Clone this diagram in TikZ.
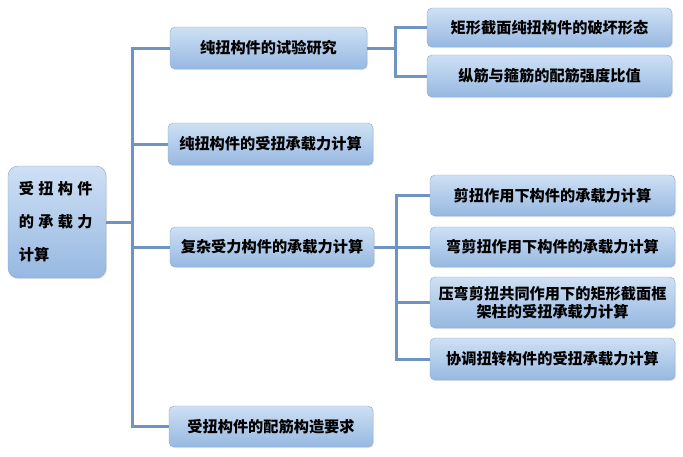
\documentclass[tikz,border=0pt]{standalone}
\usepackage{fontspec}
\newfontfamily\cjk{Noto Sans CJK SC}
\usetikzlibrary{shadows}
\definecolor{linkblue}{RGB}{112,148,194}
\definecolor{boxtop}{RGB}{206,224,244}
\definecolor{boxbot}{RGB}{150,184,225}
\definecolor{boxline}{RGB}{136,168,208}
\tikzset{
  box/.style={draw=boxline,thin,rounded corners=5pt,top color=boxtop,bottom color=boxbot,
    drop shadow={opacity=0.2,shadow xshift=1pt,shadow yshift=-1.2pt},
    font=\cjk\bfseries\fontsize{15.2}{17.5}\selectfont,inner sep=2pt,align=center},
  link/.style={draw=linkblue,line width=3pt}
}
\begin{document}
\begin{tikzpicture}[x=1pt,y=-1pt]
      \useasboundingbox (0,0) rectangle (683,456);
      % root
      \node[box,rounded corners=10pt,minimum width=98pt,minimum height=112pt,text width=76pt,inner xsep=11pt,align=left,
            font=\cjk\bfseries\fontsize{15.2}{33}\selectfont] (root) at (57,222)
            {受\hspace{4.3pt}扭\hspace{4.3pt}构\hspace{4.3pt}件\\的\hspace{4.3pt}承\hspace{4.3pt}载\hspace{4.3pt}力\\计算};
      % first level
      \node[box,minimum width=197pt,minimum height=42pt] (test) at (268.5,48) {纯扭构件的试验研究};
      \node[box,minimum width=205pt,minimum height=42pt] (pure) at (270.5,144) {纯扭构件的受扭承载力计算};
      \node[box,minimum width=204pt,minimum height=40pt] (comb) at (272,247) {复杂受力构件的承载力计算};
      \node[box,minimum width=204pt,minimum height=41pt] (detail) at (271,426.5) {受扭构件的配筋构造要求};
      % second level
      \node[box,minimum width=245pt,minimum height=39pt] (fail) at (549.5,27.5) {矩形截面纯扭构件的破坏形态};
      \node[box,minimum width=245pt,minimum height=42pt] (ratio) at (549.5,76) {纵筋与箍筋的配筋强度比值};
      \node[box,minimum width=245pt,minimum height=41pt] (shear) at (552.5,195.5) {剪扭作用下构件的承载力计算};
      \node[box,minimum width=245pt,minimum height=40pt] (bend) at (552.5,247) {弯剪扭作用下构件的承载力计算};
      \node[box,minimum width=245pt,minimum height=51pt,text width=240pt] (frame) at (552.5,302.5) {压弯剪扭共同作用下的矩形截面框\\架柱的受扭承载力计算};
      \node[box,minimum width=245pt,minimum height=42pt] (compat) at (552.5,359) {协调扭转构件的受扭承载力计算};
      % joints
      \coordinate (trunk) at (132,222);
      \coordinate (jtest) at (395,48);
      \coordinate (jcomb) at (396,247);
      % connectors
      \draw[link] (root.east) -- (trunk);
      \draw[link] (test.west) -| (trunk) |- (detail.west);
      \draw[link] (trunk) |- (pure.west);
      \draw[link] (trunk) |- (comb.west);
      \draw[link] (test.east) -- (jtest);
      \draw[link] (fail.west) -| (jtest) |- (ratio.west);
      \draw[link] (comb.east) -- (jcomb);
      \draw[link] (shear.west) -| (jcomb) |- (compat.west);
      \draw[link] (jcomb) |- (bend.west);
      \draw[link] (jcomb) |- (frame.west);
\end{tikzpicture}
\end{document}
